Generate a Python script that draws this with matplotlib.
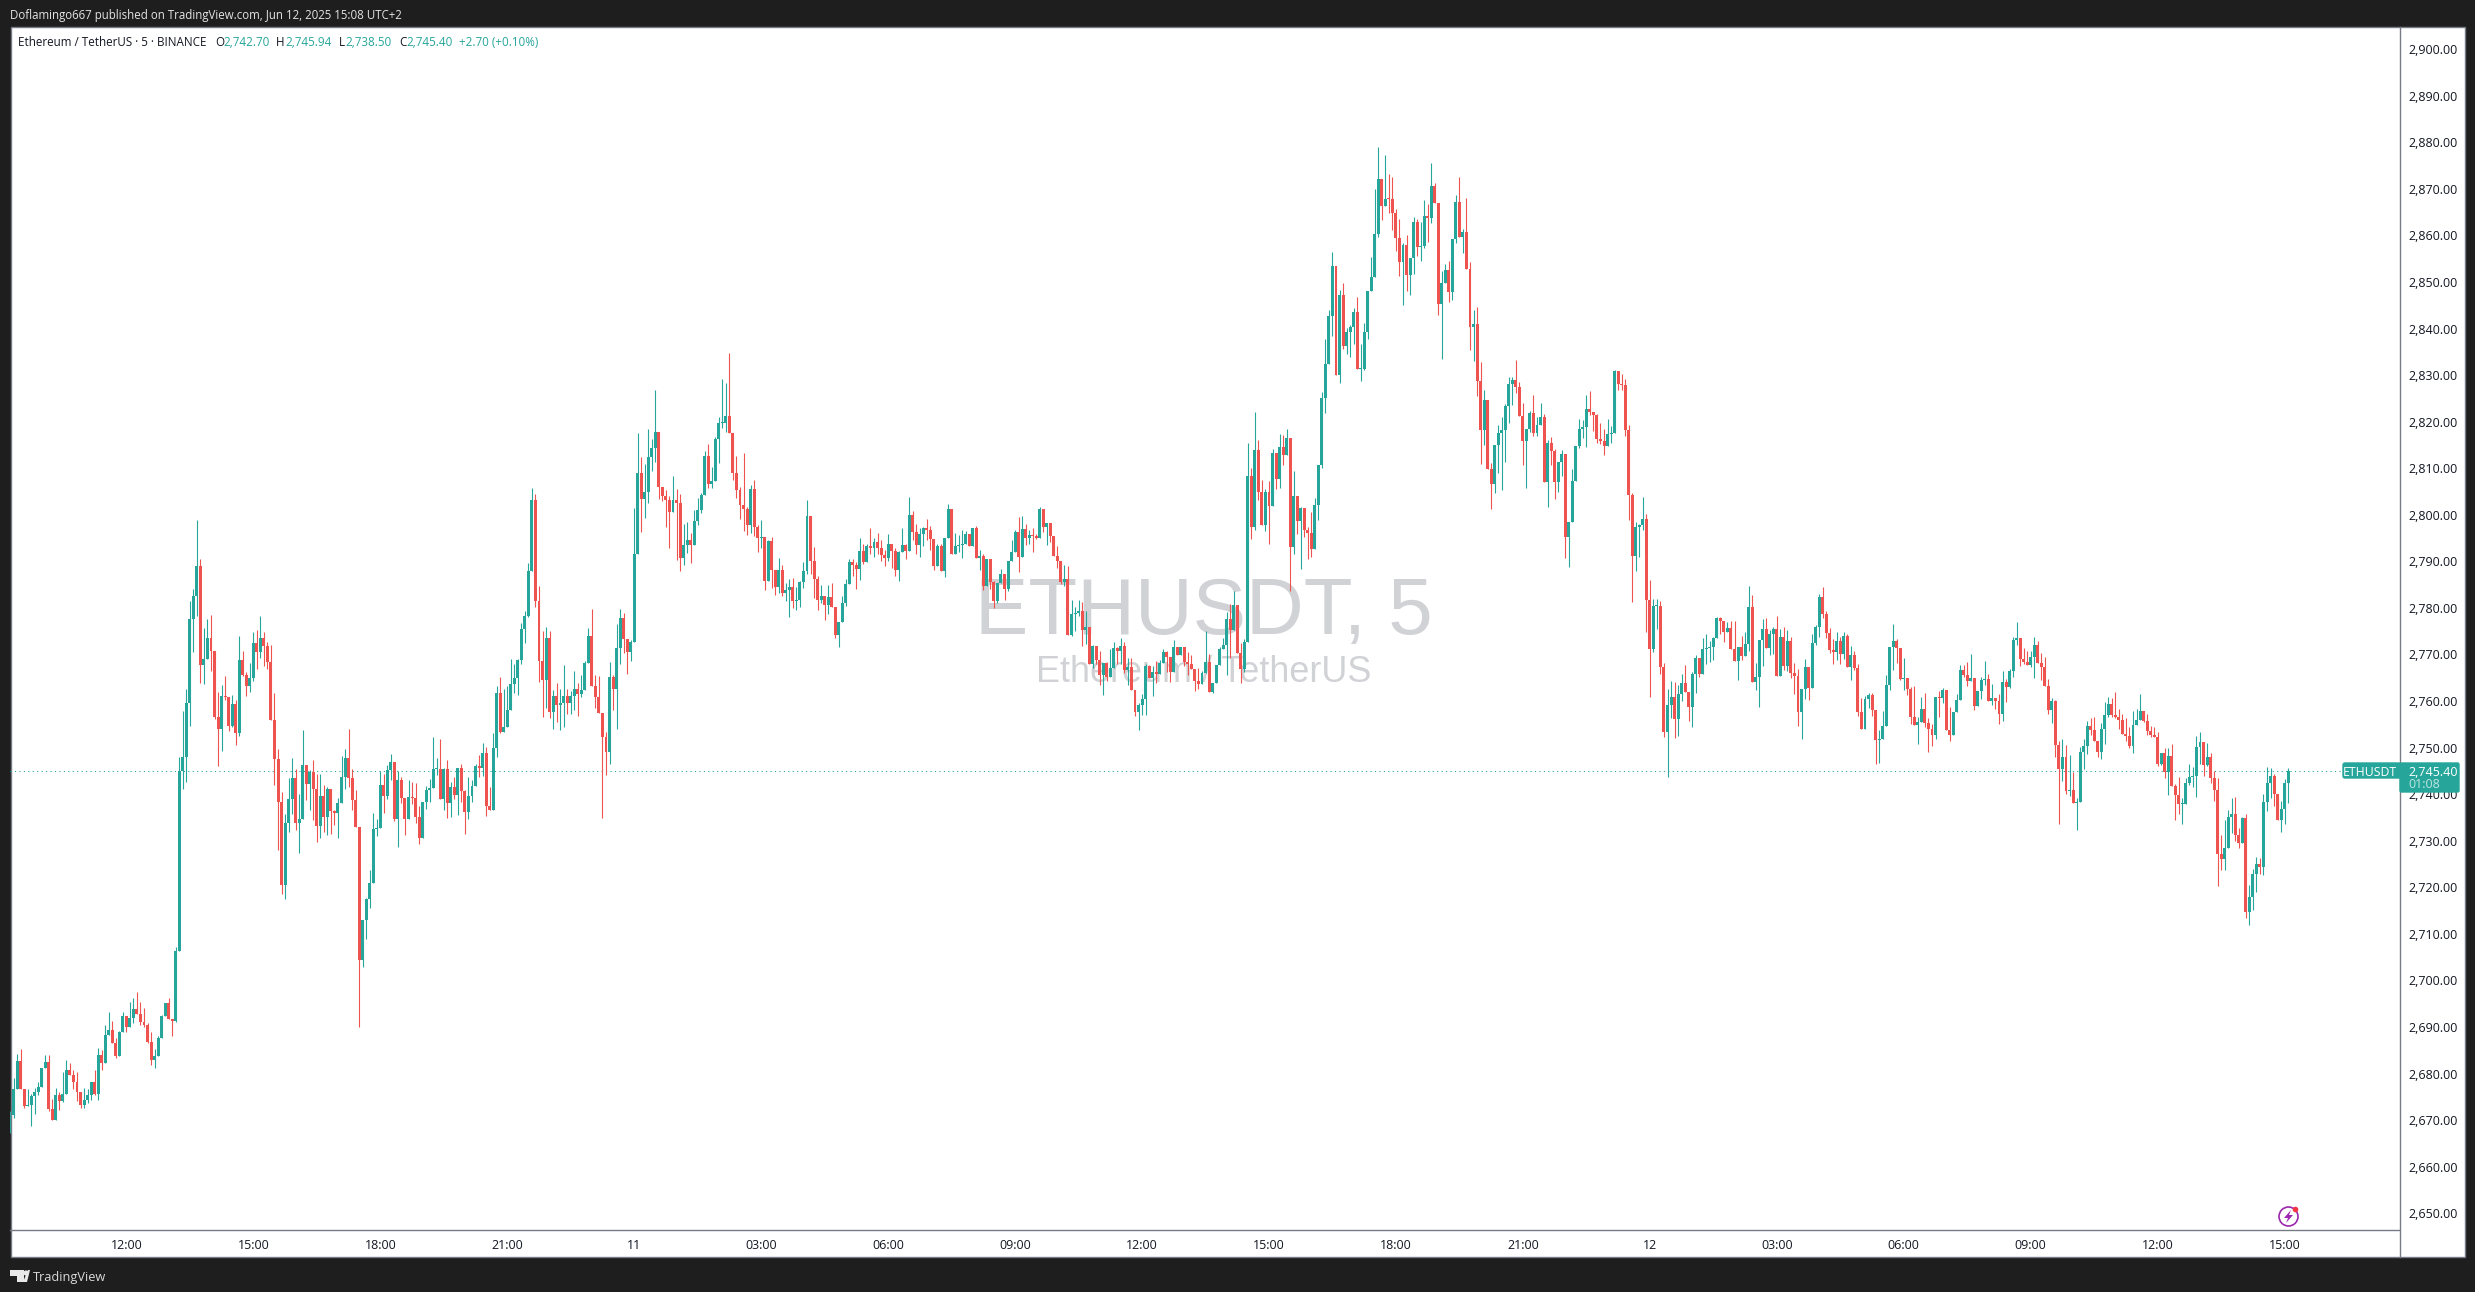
#ETHUSDT 5 minute chart, TradingView look
import numpy as np
import matplotlib
matplotlib.use('Agg')
import matplotlib.pyplot as plt
from matplotlib.patches import Rectangle, Circle, Polygon, FancyBboxPatch
from matplotlib.transforms import ScaledTranslation

closes = [
2671.4,2677.1,2683.1,2677.0,2673.3,2673.6,2675.4,2676.3,2677.4,2681.4,
2682.9,2672.8,2670.3,2675.6,2674.5,2675.9,2681.1,2680.0,2678.6,2676.4,
2673.6,2674.7,2675.6,2678.4,2676.0,2684.2,2682.5,2688.5,2689.7,2686.9,
2684.1,2689.2,2692.6,2690.3,2692.3,2694.1,2693.2,2691.4,2690.7,2687.0,
2683.3,2684.0,2687.9,2692.6,2695.4,2692.1,2691.6,2706.7,2745.4,2748.4,
2760.0,2777.9,2782.8,2789.3,2768.0,2769.4,2773.8,2771.1,2756.8,2754.3,
2761.4,2761.2,2754.9,2759.6,2753.5,2769.1,2765.9,2763.5,2765.2,2772.8,
2770.8,2773.8,2772.1,2768.6,2756.3,2747.8,2738.6,2720.9,2734.2,2739.2,
2743.7,2734.1,2735.0,2746.5,2742.4,2745.1,2741.5,2733.5,2740.0,2735.4,
2741.4,2736.6,2736.3,2738.4,2743.9,2748.0,2743.7,2739.0,2733.3,2704.6,
2713.2,2717.7,2721.3,2732.9,2733.1,2742.3,2740.0,2745.6,2747.2,2735.0,
2743.3,2739.5,2734.9,2739.8,2739.5,2735.4,2730.9,2738.7,2741.2,2741.6,
2745.7,2745.8,2739.3,2745.7,2738.4,2741.9,2740.1,2745.9,2740.9,2736.5,
2739.9,2742.0,2746.4,2746.0,2749.1,2737.7,2737.0,2750.2,2762.0,2753.7,
2754.7,2758.5,2763.9,2765.2,2769.2,2775.8,2778.6,2788.3,2803.5,2781.7,
2769.0,2764.8,2773.8,2758.0,2761.4,2759.4,2759.9,2761.4,2759.8,2761.4,
2762.9,2761.9,2762.6,2768.4,2774.3,2763.5,2761.1,2757.7,2752.6,2749.3,
2765.4,2762.9,2771.7,2778.1,2773.6,2770.8,2773.0,2791.9,2809.4,2803.7,
2805.2,2812.7,2814.6,2818.1,2806.3,2804.4,2803.6,2800.9,2803.6,2802.9,
2791.0,2793.8,2794.9,2793.8,2799.0,2801.3,2804.5,2812.9,2806.9,2807.6,
2816.5,2820.0,2820.1,2821.5,2817.9,2809.2,2805.7,2802.4,2801.5,2798.1,
2805.8,2797.7,2795.3,2795.5,2786.2,2794.7,2788.5,2784.8,2788.5,2783.5,
2784.1,2784.8,2781.8,2782.1,2785.9,2788.2,2800.0,2790.3,2786.5,2782.0,
2782.8,2780.9,2782.6,2780.5,2774.5,2777.4,2781.3,2785.5,2790.1,2789.5,
2788.7,2792.5,2790.1,2793.6,2793.2,2794.4,2793.1,2791.6,2791.0,2794.0,
2792.5,2788.4,2792.3,2793.8,2792.5,2800.2,2796.6,2793.8,2796.2,2797.4,
2797.0,2795.1,2789.3,2793.6,2788.2,2795.3,2801.5,2792.0,2793.6,2793.8,
2794.0,2796.1,2793.6,2797.4,2791.0,2791.4,2785.0,2790.8,2785.8,2781.8,
2785.6,2787.5,2784.3,2790.3,2792.3,2796.6,2791.2,2797.2,2795.3,2795.9,
2795.7,2795.4,2801.5,2797.6,2798.5,2795.7,2791.4,2790.3,2785.8,2786.5,
2774.5,2779.0,2779.2,2779.6,2775.5,2776.2,2768.2,2772.1,2769.1,2765.9,
2768.4,2765.4,2767.4,2771.7,2771.0,2772.1,2766.9,2767.6,2762.6,2757.9,
2759.4,2760.7,2767.8,2765.2,2766.5,2766.1,2768.4,2770.8,2769.7,2766.5,
2771.9,2770.2,2771.9,2768.7,2768.2,2767.2,2764.6,2763.9,2766.4,2768.7,
2762.3,2764.2,2768.0,2771.6,2772.3,2777.9,2775.6,2781.0,2770.6,2767.2,
2773.0,2808.6,2797.8,2814.2,2805.2,2798.2,2805.2,2802.2,2813.5,2808.1,
2814.9,2813.2,2816.8,2793.3,2804.3,2799.0,2801.7,2797.0,2796.5,2792.9,
2802.5,2811.0,2825.4,2832.8,2843.0,2853.7,2830.3,2847.6,2836.6,2839.5,
2840.6,2843.8,2831.6,2831.6,2839.5,2848.3,2851.3,2860.7,2872.4,2866.6,
2868.2,2868.1,2865.1,2859.7,2854.6,2858.2,2851.8,2855.4,2863.2,2857.8,
2858.1,2864.4,2864.1,2870.9,2867.3,2845.5,2850.0,2852.8,2848.2,2859.5,
2867.6,2859.9,2861.0,2853.2,2840.6,2841.2,2829.0,2818.6,2824.9,2810.1,
2806.9,2815.4,2817.8,2818.6,2823.6,2828.5,2829.2,2827.8,2821.6,2816.2,
2818.8,2822.1,2817.8,2819.7,2821.3,2807.3,2815.7,2814.0,2807.3,2811.6,
2813.3,2795.6,2798.8,2807.6,2815.2,2818.8,2819.2,2823.0,2822.4,2821.7,
2816.5,2816.2,2815.1,2817.7,2817.9,2831.2,2828.4,2828.2,2818.5,2804.6,
2791.5,2797.7,2798.1,2799.4,2782.0,2771.5,2780.7,2780.7,2767.6,2753.7,
2759.5,2761.2,2756.4,2761.8,2764.2,2762.2,2759.0,2766.1,2769.6,2766.1,
2771.5,2771.7,2771.9,2773.9,2778.2,2777.5,2775.1,2776.0,2771.5,2768.9,
2771.9,2770.0,2772.6,2780.5,2764.4,2765.5,2773.4,2775.8,2771.7,2774.7,
2775.8,2765.7,2774.1,2767.8,2773.2,2766.3,2765.7,2758.0,2762.9,2767.6,
2763.1,2772.8,2776.2,2782.7,2779.0,2774.9,2771.3,2770.8,2773.2,2770.4,
2774.3,2767.6,2770.2,2767.4,2758.0,2754.3,2760.8,2761.6,2758.4,2751.9,
2752.2,2754.9,2763.8,2771.9,2773.2,2771.7,2765.0,2765.2,2762.9,2756.9,
2755.2,2755.8,2758.6,2755.6,2754.3,2753.0,2761.2,2761.0,2762.7,2754.1,
2753.0,2758.0,2760.5,2767.0,2765.9,2764.6,2765.2,2759.3,2762.5,2764.8,
2765.0,2760.3,2761.0,2760.3,2757.5,2764.4,2763.3,2766.8,2773.4,2773.8,
2769.3,2768.7,2768.0,2769.8,2772.3,2768.5,2767.6,2763.5,2758.4,2760.3,
2750.9,2745.7,2748.3,2741.0,2741.2,2738.4,2738.6,2749.4,2750.6,2754.9,
2754.1,2751.7,2749.4,2754.3,2757.3,2759.7,2757.3,2756.9,2756.2,2753.2,
2752.8,2750.6,2755.2,2756.2,2758.2,2756.0,2753.9,2753.0,2752.6,2746.8,
2749.2,2745.0,2748.5,2742.0,2740.1,2738.2,2738.2,2742.7,2744.0,2744.2,
2750.4,2751.5,2746.6,2748.3,2743.8,2741.2,2727.5,2726.4,2728.7,2735.4,
2736.0,2731.5,2729.8,2735.2,2715.0,2718.2,2723.2,2725.3,2724.7,2738.6,
2742.7,2744.2,2740.3,2734.8,2737.1,2742.7,2745.4]

highs = [
2672.3,2679.3,2684.5,2685.5,2677.0,2677.0,2676.0,2677.3,2678.6,2681.4,
2684.2,2684.2,2674.9,2677.3,2676.4,2680.6,2683.3,2682.6,2681.0,2680.6,
2676.4,2677.3,2677.0,2678.6,2681.0,2685.9,2685.3,2690.8,2693.6,2691.7,
2687.9,2689.4,2693.6,2692.6,2695.6,2696.5,2697.9,2695.6,2694.3,2691.1,
2689.2,2685.5,2688.3,2692.8,2695.4,2696.5,2692.1,2707.4,2748.2,2758.1,
2763.0,2781.8,2784.3,2799.1,2790.8,2775.9,2778.0,2778.7,2771.1,2762.2,
2763.7,2765.6,2761.2,2761.7,2760.5,2774.3,2771.0,2766.6,2768.4,2775.1,
2775.6,2778.6,2775.1,2772.9,2772.3,2762.0,2750.1,2740.8,2736.0,2743.7,
2748.0,2745.7,2740.3,2754.1,2746.5,2745.6,2747.6,2744.7,2744.7,2742.3,
2741.9,2741.4,2737.0,2739.4,2748.6,2750.1,2754.4,2745.8,2741.2,2733.3,
2713.2,2718.1,2724.1,2736.2,2735.0,2745.3,2744.7,2746.5,2748.9,2747.2,
2745.2,2744.0,2739.5,2743.3,2743.0,2742.7,2737.7,2738.7,2742.0,2743.6,
2752.6,2748.1,2752.1,2746.0,2747.6,2742.9,2744.0,2745.9,2746.7,2741.2,
2744.0,2743.3,2746.7,2748.7,2751.2,2750.4,2741.8,2753.5,2763.5,2765.4,
2763.0,2763.5,2769.3,2768.2,2769.4,2777.0,2779.6,2789.9,2806.0,2804.7,
2785.0,2775.3,2776.3,2775.3,2762.7,2764.3,2763.0,2768.0,2762.9,2762.5,
2766.8,2764.2,2765.9,2768.9,2776.0,2780.0,2765.9,2765.6,2757.7,2753.6,
2768.7,2765.9,2776.8,2780.0,2779.2,2773.6,2773.4,2801.8,2817.9,2812.7,
2811.2,2818.7,2816.5,2827.1,2818.1,2806.3,2805.6,2804.3,2808.6,2805.9,
2804.7,2798.3,2798.7,2796.4,2801.3,2803.9,2804.9,2814.0,2815.5,2810.6,
2817.0,2821.3,2829.5,2828.6,2835.0,2817.9,2813.0,2806.2,2813.5,2802.1,
2806.7,2807.7,2798.1,2799.3,2795.5,2794.9,2795.5,2788.5,2791.1,2789.5,
2785.7,2786.5,2786.7,2784.8,2786.0,2790.1,2803.4,2800.0,2793.4,2787.1,
2785.3,2782.8,2785.3,2785.6,2780.5,2777.4,2782.8,2786.6,2790.8,2790.8,
2790.1,2795.3,2794.0,2794.0,2797.4,2795.4,2796.4,2795.0,2792.7,2796.1,
2794.0,2793.1,2792.5,2797.4,2794.0,2804.1,2801.1,2798.4,2797.4,2797.6,
2799.5,2798.0,2795.1,2794.0,2794.0,2795.3,2802.6,2801.5,2796.4,2795.9,
2797.0,2796.9,2796.1,2797.4,2798.0,2792.7,2792.0,2790.8,2790.8,2786.0,
2785.6,2788.6,2787.5,2790.5,2795.0,2797.0,2799.8,2800.0,2798.3,2797.0,
2797.4,2796.1,2802.0,2801.5,2798.5,2798.5,2795.7,2793.6,2790.5,2789.5,
2789.3,2782.0,2780.5,2782.0,2781.5,2779.6,2776.2,2772.3,2772.1,2771.0,
2768.4,2768.7,2771.5,2773.1,2771.9,2773.8,2772.9,2769.5,2769.5,2762.6,
2760.0,2761.8,2768.2,2768.0,2767.8,2768.9,2769.1,2771.4,2771.1,2769.7,
2773.4,2771.9,2771.9,2771.9,2770.8,2770.2,2767.2,2767.4,2766.8,2775.3,
2770.5,2764.2,2768.0,2772.0,2773.9,2779.5,2781.2,2783.9,2781.0,2772.8,
2773.6,2815.7,2810.4,2822.5,2816.3,2807.9,2805.8,2807.6,2814.5,2813.5,
2817.6,2817.4,2818.7,2816.8,2809.8,2804.3,2802.0,2801.7,2797.6,2801.0,
2803.9,2811.0,2826.6,2838.0,2844.4,2856.7,2853.7,2848.6,2850.0,2840.5,
2841.0,2844.7,2847.1,2837.1,2841.5,2848.3,2855.6,2870.2,2879.3,2872.4,
2877.7,2873.5,2872.9,2865.9,2863.8,2858.7,2860.5,2855.4,2864.2,2863.9,
2863.3,2867.9,2867.0,2875.8,2871.6,2867.3,2852.7,2854.1,2854.8,2859.5,
2868.9,2872.8,2861.7,2868.3,2854.6,2844.4,2844.9,2833.1,2827.2,2824.9,
2811.4,2815.4,2819.5,2821.3,2824.1,2829.9,2830.0,2833.5,2828.9,2824.3,
2818.8,2822.7,2826.0,2821.3,2824.4,2821.9,2816.3,2817.0,2814.4,2811.6,
2814.2,2813.3,2798.8,2810.2,2815.2,2820.9,2820.6,2826.0,2826.9,2822.4,
2821.9,2820.0,2818.7,2821.0,2819.4,2831.4,2831.2,2830.5,2829.5,2819.6,
2805.0,2798.8,2798.3,2804.1,2800.5,2786.3,2782.2,2782.2,2781.8,2768.5,
2762.9,2764.6,2764.4,2763.8,2766.1,2768.0,2762.2,2766.6,2770.2,2769.6,
2773.9,2774.7,2773.2,2774.1,2778.4,2778.4,2777.5,2777.3,2777.5,2777.5,
2771.9,2774.3,2775.1,2785.0,2783.1,2768.5,2773.4,2777.9,2778.1,2775.6,
2776.2,2778.6,2775.8,2776.2,2775.6,2774.1,2768.5,2767.2,2762.9,2769.3,
2767.6,2774.7,2776.6,2783.3,2784.8,2779.6,2776.0,2773.6,2775.1,2774.1,
2775.1,2774.7,2772.1,2771.0,2768.3,2761.0,2761.4,2762.0,2762.0,2758.4,
2754.1,2758.2,2765.9,2771.9,2776.9,2773.6,2771.7,2769.6,2765.2,2763.3,
2763.5,2756.9,2761.2,2762.0,2756.7,2755.4,2761.2,2762.5,2763.1,2762.7,
2759.1,2758.0,2761.8,2768.1,2768.1,2768.7,2770.4,2765.2,2762.5,2765.5,
2768.9,2766.1,2764.0,2761.0,2761.8,2766.8,2765.0,2767.2,2774.1,2777.3,
2773.8,2771.7,2771.0,2771.0,2774.1,2773.2,2770.6,2769.8,2765.0,2761.0,
2760.5,2751.7,2752.2,2750.9,2748.7,2745.1,2739.5,2750.4,2752.2,2756.0,
2756.7,2756.9,2751.7,2755.6,2760.1,2761.2,2761.0,2762.2,2758.6,2757.5,
2756.7,2754.7,2758.2,2758.6,2761.8,2758.2,2757.5,2755.0,2754.7,2753.7,
2749.2,2750.2,2750.2,2751.1,2742.5,2744.0,2739.5,2743.8,2746.8,2746.1,
2752.8,2753.7,2751.5,2751.3,2749.2,2745.3,2743.8,2731.5,2734.8,2736.9,
2739.5,2739.7,2733.0,2735.4,2736.0,2720.8,2724.2,2726.8,2726.6,2740.3,
2746.1,2745.9,2744.6,2740.3,2738.8,2743.6,2745.94]

lows = [
2667.6,2670.8,2677.1,2677.0,2673.0,2673.3,2669.0,2671.6,2675.6,2677.4,
2681.4,2672.3,2670.3,2670.3,2672.4,2674.3,2675.9,2680.0,2676.9,2674.4,
2673.0,2673.0,2674.0,2674.7,2675.6,2674.7,2681.0,2682.5,2688.5,2686.9,
2683.7,2684.1,2689.2,2689.3,2690.3,2691.1,2693.2,2690.7,2690.4,2686.8,
2682.1,2681.4,2684.0,2687.9,2692.6,2692.1,2688.3,2691.3,2706.7,2741.5,
2743.0,2755.0,2770.8,2778.6,2764.2,2763.9,2769.4,2766.8,2756.4,2746.3,
2749.5,2760.5,2753.8,2754.7,2750.8,2752.9,2765.6,2761.5,2762.2,2764.6,
2767.3,2769.5,2767.8,2767.3,2756.3,2742.3,2728.3,2718.8,2717.7,2732.2,
2736.0,2732.6,2727.6,2735.0,2739.0,2737.0,2734.7,2730.0,2731.0,2732.2,
2731.5,2731.7,2733.7,2731.0,2738.4,2741.4,2741.9,2736.9,2733.3,2690.3,
2703.1,2709.3,2715.8,2721.3,2731.3,2733.1,2736.2,2739.2,2743.4,2734.6,
2728.9,2738.5,2731.6,2734.9,2738.3,2734.2,2729.6,2730.9,2737.2,2738.7,
2741.6,2744.5,2739.3,2736.9,2735.1,2735.4,2739.3,2735.8,2738.6,2731.7,
2735.0,2738.7,2742.0,2743.9,2744.2,2735.7,2737.0,2737.0,2748.3,2753.5,
2753.7,2754.7,2758.5,2762.0,2761.6,2768.2,2772.7,2778.4,2788.3,2780.5,
2764.4,2756.9,2758.8,2756.6,2754.3,2755.8,2754.0,2754.7,2757.5,2757.5,
2758.5,2757.1,2761.1,2762.6,2768.4,2763.5,2758.8,2757.7,2735.1,2744.4,
2746.7,2758.5,2754.3,2768.2,2770.7,2766.1,2768.9,2773.0,2791.9,2796.6,
2799.6,2802.8,2809.7,2811.7,2803.7,2803.2,2797.7,2793.1,2800.9,2790.6,
2788.3,2789.5,2792.1,2790.0,2793.8,2798.1,2800.6,2804.5,2806.0,2806.0,
2807.6,2811.4,2819.0,2818.1,2817.9,2807.7,2803.9,2799.4,2796.8,2795.9,
2796.4,2795.7,2792.3,2793.1,2784.1,2786.2,2784.5,2783.1,2783.6,2782.9,
2781.7,2778.4,2780.3,2779.8,2780.5,2784.5,2787.5,2787.5,2782.5,2779.8,
2781.3,2777.7,2779.0,2780.5,2773.8,2771.9,2777.4,2780.7,2785.5,2787.1,
2784.3,2786.3,2789.7,2790.1,2791.9,2791.2,2791.9,2790.4,2789.3,2790.3,
2788.8,2787.1,2786.1,2792.3,2790.8,2792.5,2794.9,2791.9,2791.2,2793.6,
2794.9,2792.7,2788.4,2789.3,2788.2,2786.9,2795.3,2792.0,2791.9,2792.3,
2791.0,2794.0,2793.6,2793.6,2791.0,2788.4,2784.1,2785.0,2784.3,2780.3,
2781.4,2785.6,2782.0,2783.9,2790.3,2792.3,2788.0,2791.2,2793.8,2794.0,
2792.3,2795.1,2795.4,2796.6,2793.8,2794.4,2791.4,2788.8,2785.4,2785.0,
2774.5,2774.2,2775.3,2778.5,2772.1,2772.5,2768.2,2767.4,2768.2,2763.7,
2761.6,2764.6,2765.4,2767.4,2768.2,2768.2,2766.3,2763.7,2762.6,2757.1,
2754.0,2757.3,2757.3,2765.2,2761.4,2764.1,2766.1,2768.4,2766.5,2764.4,
2766.5,2770.2,2770.2,2767.8,2765.9,2767.2,2762.4,2763.0,2763.9,2766.4,
2762.3,2762.0,2764.2,2768.0,2771.6,2766.0,2769.5,2775.6,2770.6,2764.2,
2766.5,2773.0,2795.1,2797.1,2803.5,2798.2,2796.8,2794.0,2802.2,2805.8,
2806.0,2811.0,2813.2,2783.9,2791.9,2796.1,2788.7,2795.5,2790.9,2791.2,
2792.9,2799.3,2810.4,2822.1,2832.8,2838.7,2830.3,2828.7,2835.9,2834.8,
2834.2,2837.0,2831.6,2829.1,2831.4,2838.0,2848.3,2851.3,2859.9,2863.6,
2866.6,2865.1,2861.5,2857.0,2851.5,2845.3,2848.3,2847.5,2852.0,2856.0,
2854.8,2857.6,2858.9,2862.9,2867.3,2843.2,2833.8,2850.0,2846.0,2846.4,
2858.6,2859.9,2856.6,2853.2,2835.7,2833.3,2825.8,2811.2,2815.3,2810.1,
2801.6,2804.9,2809.4,2805.6,2811.6,2820.0,2823.9,2826.5,2821.6,2811.0,
2806.0,2818.0,2817.2,2817.2,2819.7,2807.3,2802.0,2811.0,2803.7,2805.2,
2808.6,2791.0,2789.1,2798.8,2807.6,2814.7,2816.8,2814.9,2821.7,2818.3,
2815.8,2815.5,2813.2,2815.1,2815.7,2817.9,2827.1,2827.1,2817.2,2799.2,
2781.6,2788.2,2791.2,2797.0,2775.1,2761.2,2770.8,2775.8,2766.1,2752.6,
2744.0,2756.7,2752.4,2752.8,2760.3,2762.2,2756.0,2754.7,2762.0,2765.5,
2766.1,2768.3,2768.7,2769.1,2773.9,2774.7,2773.0,2775.1,2771.5,2768.9,
2764.8,2769.1,2770.0,2771.0,2764.4,2762.7,2759.0,2767.8,2771.7,2770.2,
2770.4,2765.7,2765.7,2767.0,2766.8,2765.3,2761.8,2755.0,2752.2,2760.7,
2760.5,2763.1,2772.3,2774.0,2778.2,2773.9,2770.6,2768.3,2769.1,2768.3,
2769.3,2767.6,2764.8,2767.0,2757.1,2754.3,2754.3,2758.8,2757.1,2746.8,
2747.0,2752.2,2754.9,2762.7,2767.0,2768.5,2764.8,2762.7,2761.6,2755.4,
2755.2,2751.1,2755.8,2754.7,2749.4,2750.7,2752.2,2756.9,2759.9,2754.1,
2751.7,2753.0,2758.0,2760.5,2765.5,2763.5,2764.6,2758.4,2759.3,2760.7,
2763.8,2760.3,2759.5,2758.6,2755.4,2756.0,2760.1,2763.1,2765.5,2772.3,
2767.8,2768.3,2768.0,2767.6,2765.3,2768.5,2764.8,2763.5,2757.5,2755.6,
2748.3,2733.9,2743.1,2740.3,2739.9,2738.4,2732.6,2738.6,2745.7,2748.9,
2753.0,2751.7,2748.3,2747.9,2751.1,2756.9,2756.9,2756.7,2754.3,2753.2,
2751.7,2750.2,2749.1,2755.2,2756.2,2755.8,2753.0,2752.6,2752.6,2746.4,
2746.6,2743.8,2740.1,2742.0,2734.8,2736.0,2733.9,2738.2,2742.3,2741.9,
2739.7,2746.8,2744.2,2746.4,2742.7,2738.8,2720.6,2724.0,2724.0,2728.7,
2732.0,2730.2,2728.8,2729.8,2713.7,2712.2,2715.4,2719.3,2723.2,2723.0,
2736.7,2739.5,2737.8,2734.8,2732.2,2733.9,2738.5]

first_open = 2667.6
last_price = 2745.4
price_ticks = list(range(2650, 2901, 10))
time_labels = ['12:00','15:00','18:00','21:00','11','03:00','06:00','09:00','12:00',
               '15:00','18:00','21:00','12','03:00','06:00','09:00','12:00','15:00']
first_label_bar = 33
bars_per_label = 36

GREEN = '#26A69A'
RED = '#EF5350'
DARK = '#1E1E1E'
TEXT = '#131722'
LINE = '#787B86'
FONT = 'Open Sans'

W, H = 2475, 1292
fig = plt.figure(figsize=(W / 100, H / 100), dpi=100, facecolor=DARK)

#background layer, pixel coordinates
bg = fig.add_axes([0, 0, 1, 1], zorder=0)
bg.set_xlim(0, W)
bg.set_ylim(H, 0)
bg.axis('off')
bg.add_patch(Rectangle((10.5, 27), 2454.5, 1229.5, fc='white', ec=LINE, lw=1))
bg.plot([10, 2399], [1229.5, 1229.5], color=LINE, lw=1)
bg.plot([2399.5, 2399.5], [27, 1257], color=LINE, lw=1)
bg.text(1204, 613, 'ETHUSDT, 5', family='Liberation Sans', fontsize=57.6, color='#D1D2D6',
        ha='center', va='center')
bg.text(1204, 673, 'Ethereum / TetherUS', family='Liberation Sans', fontsize=25.9, color='#D1D2D6',
        ha='center', va='center')

#candles
x0, x1 = 10, 2399
y0, y1 = 27, 1229.5
ax = fig.add_axes([x0 / W, 1 - y1 / H, (x1 - x0) / W, (y1 - y0) / H], zorder=1)
ax.patch.set_alpha(0)

closes = np.array(closes)
opens = np.r_[first_open, closes[:-1]]
highs = np.maximum(np.array(highs), np.maximum(opens, closes))
lows = np.minimum(np.array(lows), np.minimum(opens, closes))
xs = np.arange(len(closes))
colors = [GREEN if c >= o else RED for o, c in zip(opens, closes)]

ax.axhline(last_price, color=GREEN, lw=0.8, dashes=(1, 3), xmax=(2341 - x0) / (x1 - x0))
wicks = ax.vlines(xs, lows, highs, colors=colors, lw=0.8, zorder=2)
wicks.set_snap(True)
ax.bar(xs, np.maximum(np.abs(closes - opens), 0.2), bottom=np.minimum(opens, closes),
       width=0.84, color=colors, linewidth=0, zorder=3)

ax.set_xlim(0, (x1 - x0) / 3.5266)
ax.set_ylim(2745.4 + (770.5 - y1) / 4.656, 2745.4 + (770.5 - y0) / 4.656)
for s in ax.spines.values():
    s.set_visible(False)

ax.yaxis.tick_right()
ax.set_yticks(price_ticks)
ax.set_yticklabels([f'{p:,.2f}' for p in price_ticks], family=FONT, fontsize=9, color=TEXT)
ax.set_xticks([first_label_bar + bars_per_label * i for i in range(len(time_labels))])
ax.set_xticklabels(time_labels, family=FONT, fontsize=9, color=TEXT)
ax.tick_params(length=0)
ax.tick_params(axis='y', pad=6.5)
ax.tick_params(axis='x', pad=6.5)
up = ScaledTranslation(0, 1.5 / 100, fig.dpi_scale_trans)
for t in ax.get_yticklabels():
    t.set_transform(t.get_transform() + up)

#top layer, pixel coordinates
top = fig.add_axes([0, 0, 1, 1], zorder=2)
top.set_xlim(0, W)
top.set_ylim(H, 0)
top.axis('off')

top.text(9.5, 15.5, 'Doflamingo667 published on TradingView.com, Jun 12, 2025 15:08 UTC+2',
         family=FONT, fontsize=8.3, color='#E4E4E4', va='center')

top.text(18, 42.5, 'Ethereum / TetherUS · 5 · BINANCE', family=FONT, fontsize=8.4, color=TEXT, va='center')
for x, s in [(215, 'O'), (276, 'H'), (339, 'L'), (399, 'C')]:
    top.text(x, 42.5, s, family=FONT, fontsize=8.4, color=TEXT, va='center')
for x, s in [(223, '2,742.70'), (285, '2,745.94'), (345, '2,738.50'), (406, '2,745.40'), (459, '+2.70 (+0.10%)')]:
    top.text(x, 42.5, s, family=FONT, fontsize=8.4, color=GREEN, va='center')

#price labels
top.add_patch(FancyBboxPatch((2343, 763), 58, 15, boxstyle='round,pad=0,rounding_size=2', fc=GREEN, ec=GREEN, lw=1))
top.add_patch(FancyBboxPatch((2400, 763), 59, 29, boxstyle='round,pad=0,rounding_size=1.5', fc=GREEN, ec=GREEN, lw=1))
top.text(2370, 772, 'ETHUSDT', family=FONT, fontsize=8.8, color='white', ha='center', va='center')
top.text(2408, 772, '2,745.40', family=FONT, fontsize=9, color='white', va='center')
top.text(2408, 785, '01:08', family=FONT, fontsize=9, color='#BFE5E1', va='center')

#logo bottom left
logo = [[10, 1270], [24, 1270], [24, 1282], [17, 1282], [17, 1276], [10, 1276]]
top.add_patch(Polygon(logo, fc='#E8E8E8', ec='none'))
top.add_patch(Circle((26, 1273), 2.6, fc='#E8E8E8', ec='none'))
top.add_patch(Polygon([[23, 1282], [28, 1270], [30, 1270], [27, 1282]], fc='#E8E8E8', ec='none'))
top.text(33, 1277, 'TradingView', family=FONT, fontsize=9.2, color='#DADADA', va='center')

#bolt icon
top.add_patch(Circle((2288.5, 1216.5), 9.5, fc='none', ec='#9C27B0', lw=1.2))
top.add_patch(Polygon([[2291, 1210], [2284, 1218], [2288, 1218], [2286, 1223], [2293, 1215], [2289, 1215]],
                      fc='#9C27B0', ec='none'))
top.add_patch(Circle((2295.5, 1209.5), 2.8, fc='#F23645', ec='none'))

fig.savefig('out.png', dpi=100, facecolor=DARK)
